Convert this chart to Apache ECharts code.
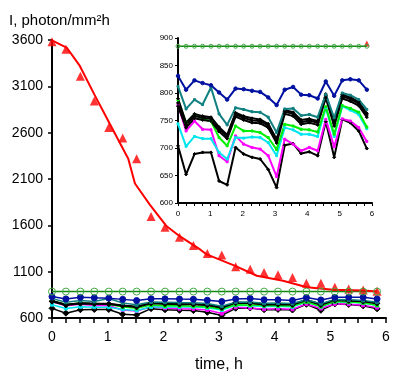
<!DOCTYPE html>
<html>
<head>
<meta charset="utf-8">
<script src="https://cdn.jsdelivr.net/npm/echarts@6/dist/echarts.min.js"></script>
<style>html,body{margin:0;padding:0;background:#fff;}#c{width:400px;height:378px;}</style>
</head>
<body>
<div id="c"></div>
<script>
// time points, h
const times = [0, 0.25, 0.51, 0.76, 1.02, 1.27, 1.52, 1.78, 2.03, 2.29, 2.54, 2.79, 3.05, 3.3, 3.56, 3.81, 4.06, 4.32, 4.57, 4.83, 5.08, 5.33, 5.59, 5.84];
// red: observed (triangles) and fitted curve
const redObs = [3582, 3500, 3210, 2941, 2657, 2543, 2319, 1696, 1579, 1472, 1383, 1297, 1280, 1152, 1127, 1091, 1068, 1038, 974, 974, 931, 913, 903, 890];
const fitTimes = [0, 0.27, 0.5, 0.76, 1.04, 1.37, 1.49, 1.76, 2.06, 2.3, 2.66, 2.78, 3.29, 3.68, 4.15, 4.58, 5.05, 5.59, 5.84];
const fitValues = [3597, 3514, 3320, 3013, 2693, 2319, 2052, 1820, 1590, 1480, 1340, 1286, 1163, 1056, 1002, 931, 906, 896, 885];
// other series
const flatGreen = [885, 885, 885, 885, 885, 885, 885, 885, 885, 885, 885, 885, 885, 885, 885, 885, 885, 885, 885, 885, 885, 885, 885, 885];
const navy = [831, 806, 823, 818, 814, 801, 788, 808, 807, 804, 802, 792, 778, 806, 811, 797, 796, 790, 821, 795, 823, 825, 823, 806];
const teal = [812, 771, 788, 779, 810, 762, 742, 773, 770, 766, 765, 756, 728, 771, 772, 759, 761, 756, 797, 755, 800, 796, 788, 770];
const blackA = [790, 746, 762, 758, 756, 738, 724, 764, 758, 754, 752, 744, 716, 769, 765, 751, 753, 749, 798, 748, 797, 792, 784, 763];
const blackB = [782, 742, 758, 755, 753, 734, 721, 761, 755, 750, 749, 741, 713, 766, 762, 747, 750, 746, 795, 744, 794, 789, 781, 760];
const blackC = [776, 737, 754, 751, 749, 730, 717, 757, 751, 746, 745, 737, 709, 762, 758, 743, 746, 742, 791, 740, 790, 785, 777, 756];
const green = [787, 746, 761, 752, 749, 719, 704, 740, 731, 731, 728, 719, 697, 743, 740, 734, 733, 729, 775, 725, 777, 772, 765, 738];
const cyan = [744, 703, 721, 717, 717, 692, 680, 719, 718, 720, 719, 710, 686, 737, 733, 725, 725, 721, 773, 721, 776, 769, 761, 735];
const magenta = [779, 731, 749, 734, 733, 686, 675, 722, 707, 701, 698, 686, 648, 716, 707, 695, 701, 695, 752, 702, 753, 749, 737, 712];
const blackLow = [704, 652, 689, 692, 692, 640, 633, 701, 689, 683, 680, 661, 628, 705, 708, 690, 693, 686, 748, 683, 752, 746, 731, 699];
// tick labels
const mainYTicks = [600, 1100, 1600, 2100, 2600, 3100, 3600];
const insetYTicks = [600, 650, 700, 750, 800, 850, 900];
const xTicks = [0, 1, 2, 3, 4, 5, 6];

const FONT = 'Liberation Sans, Arial, sans-serif';
const pairs = (vals) => vals.map((v, i) => [times[i], v]);
const fitPairs = fitValues.map((v, i) => [fitTimes[i], v]);
const plain = (v) => String(v);

const defs = [
  {data: blackLow, color: '#000', sym: 'diamond', s: [6, 3]},
  {data: magenta, color: '#ff00ff', sym: 'rect', s: [3, 2]},
  {data: cyan, color: '#00e5ee', sym: 'rect', s: [3, 2]},
  {data: green, color: '#00ee00', sym: 'rect', s: [3, 2]},
  {data: blackC, color: '#000', sym: 'diamond', s: [5, 3]},
  {data: blackB, color: '#000', sym: 'diamond', s: [5, 3]},
  {data: blackA, color: '#000', sym: 'diamond', s: [4, 3]},
  {data: teal, color: '#118080', sym: 'rect', s: [3, 2]},
  {data: navy, color: '#0010a0', sym: 'circle', s: [6, 3.5]}
];

const series = [];
[0, 1].forEach(k => {
  defs.forEach(d => {
    series.push({
      type: 'line', xAxisIndex: k, yAxisIndex: k, data: pairs(d.data),
      symbol: d.sym, symbolSize: d.s[k], showAllSymbol: true,
      lineStyle: {color: d.color, width: k === 0 ? 1.5 : 2},
      itemStyle: {color: d.color, borderColor: d.color},
      animation: false, clip: true, silent: true
    });
  });
  series.push({
    type: 'line', xAxisIndex: k, yAxisIndex: k, data: pairs(flatGreen),
    symbol: 'circle', symbolSize: k === 0 ? 7 : 4, showAllSymbol: true,
    lineStyle: {color: '#118811', width: 1.5},
    itemStyle: {color: 'rgba(255,255,255,0)', borderColor: '#44aa44', borderWidth: 1},
    animation: false, clip: true, silent: true
  });
});
series.push({
  type: 'line', xAxisIndex: 0, yAxisIndex: 0, data: fitPairs,
  symbol: 'none', lineStyle: {color: '#ff0000', width: 2},
  animation: false, silent: true
});
series.push({
  type: 'scatter', xAxisIndex: 0, yAxisIndex: 0, data: pairs(redObs),
  symbol: 'triangle', symbolSize: 9, itemStyle: {color: '#ff0000'},
  animation: false, silent: true
});
series.push({
  type: 'scatter', xAxisIndex: 1, yAxisIndex: 1, data: pairs(redObs),
  symbol: 'triangle', symbolSize: 6, itemStyle: {color: '#ff0000'},
  animation: false, clip: true, silent: true
});

const axisCommon = {
  axisLine: {show: true, onZero: false, lineStyle: {color: '#000', width: 2}},
  splitLine: {show: false}
};

const option = {
  backgroundColor: '#fff',
  animation: false,
  title: {text: 'I, photon/mm\u00B2h', left: 4, top: 8,
    textStyle: {fontFamily: FONT, fontSize: 15, fontWeight: 'normal', color: '#000'}},
  grid: [
    {left: 52, top: 40, width: 334, height: 281},
    {left: 178, top: 38, width: 194, height: 165}
  ],
  xAxis: [
    Object.assign({}, axisCommon, {
      gridIndex: 0, type: 'value', min: xTicks[0], max: xTicks[xTicks.length - 1], interval: 1,
      name: 'time, h', nameLocation: 'middle', nameGap: 39,
      nameTextStyle: {fontFamily: FONT, fontSize: 16, color: '#000'},
      axisTick: {show: true, length: 5, lineStyle: {color: '#000', width: 1.5}},
      minorTick: {show: true, splitNumber: 4, length: 5, lineStyle: {color: '#000', width: 1.5}},
      axisLabel: {fontFamily: FONT, fontSize: 14, color: '#000', margin: 12, formatter: plain}
    }),
    Object.assign({}, axisCommon, {
      gridIndex: 1, type: 'value', min: xTicks[0], max: xTicks[xTicks.length - 1], interval: 1,
      axisTick: {show: true, length: 3, lineStyle: {color: '#000', width: 1}},
      minorTick: {show: true, splitNumber: 4, length: 3, lineStyle: {color: '#000', width: 1}},
      axisLabel: {fontFamily: FONT, fontSize: 8, color: '#000', margin: 7, formatter: plain}
    })
  ],
  yAxis: [
    Object.assign({}, axisCommon, {
      gridIndex: 0, type: 'value', min: mainYTicks[0], max: mainYTicks[mainYTicks.length - 1], interval: 500,
      axisTick: {show: true, length: 4, lineStyle: {color: '#000', width: 1.5}},
      axisLabel: {fontFamily: FONT, fontSize: 14, color: '#000', margin: 9, formatter: plain}
    }),
    Object.assign({}, axisCommon, {
      gridIndex: 1, type: 'value', min: insetYTicks[0], max: insetYTicks[insetYTicks.length - 1], interval: 50,
      axisTick: {show: true, length: 3, lineStyle: {color: '#000', width: 1}},
      axisLabel: {fontFamily: FONT, fontSize: 8, color: '#000', margin: 5, formatter: plain}
    })
  ],
  series: series
};

const chart = echarts.init(document.getElementById('c'), null, {renderer: 'canvas'});
chart.setOption(option);
</script>
</body>
</html>
